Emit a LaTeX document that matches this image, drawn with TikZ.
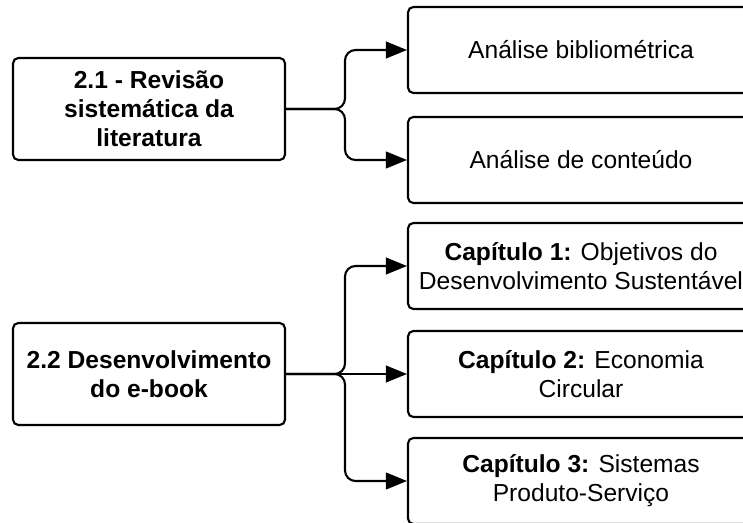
\documentclass[tikz,border=0pt]{standalone}
\usepackage{fontspec}
\setmainfont{Liberation Sans}
\usetikzlibrary{arrows.meta,positioning}

\begin{document}
\begin{tikzpicture}[x=0.02cm, y=-0.02cm, line width=1.2pt]
\tikzstyle{every node}=[font=\fontsize{14}{16.5}\selectfont] %%
\tikzstyle{etapa}=[draw, rounded corners=3pt, align=center, minimum width=5.44cm, minimum height=2.04cm, font=\fontsize{14}{16.5}\selectfont\bfseries]
\tikzstyle{saida}=[draw, rounded corners=3pt, align=center, minimum width=6.92cm, minimum height=1.72cm]
\tikzstyle{seta}=[-{Triangle[length=12pt,width=9.5pt]}, rounded corners=6pt]
\path[use as bounding box, clip] (0,0) rectangle (743,523);
% etapas
\node[etapa] (rev) at (149,109) {2.1 - Revisão\\sistemática da\\literatura};
\node[etapa] (dev) at (149,374) {2.2 Desenvolvimento\\do e-book};
% saidas
\node[saida] (bib) at (581,50) {Análise bibliométrica};
\node[saida] (cont) at (581,160) {Análise de conteúdo};
\node[saida] (cap1) at (581,266) {\textbf{Capítulo 1:} Objetivos do\\Desenvolvimento Sustentável};
\node[saida] (cap2) at (581,374) {\textbf{Capítulo 2:} Economia\\Circular};
\node[saida] (cap3) at (581,481) {\textbf{Capítulo 3:} Sistemas\\Produto-Serviço};
\coordinate (ramo1) at (345,109);
\coordinate (ramo2) at (345,374);
\draw[seta] (rev.east) -- (ramo1) |- (bib.west);
\draw[seta] (rev.east) -- (ramo1) |- (cont.west);
\draw[seta] (dev.east) -- (ramo2) |- (cap1.west);
\draw[seta] (dev.east) -- (cap2.west);
\draw[seta] (dev.east) -- (ramo2) |- (cap3.west);
\end{tikzpicture}
\end{document}
